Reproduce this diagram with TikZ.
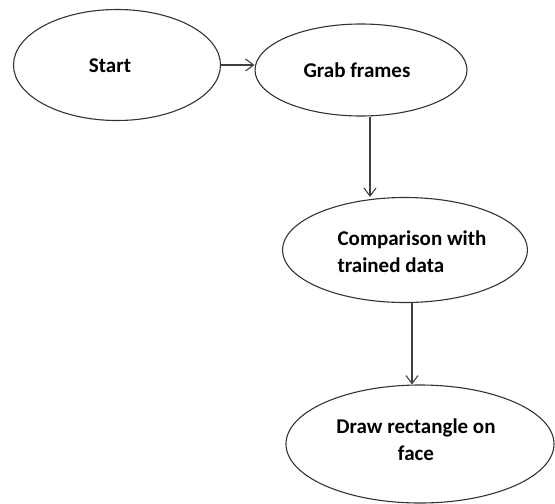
\documentclass[tikz,border=0pt]{standalone}
\usepackage{fontspec}
\setmainfont{Carlito}
\usetikzlibrary{shapes.geometric,arrows.meta}
\begin{document}
\begin{tikzpicture}[x=1pt,y=-1pt,
  blob/.style={draw=black!80, line width=1.1pt, ellipse, inner sep=0pt},
  txt/.style={inner sep=0pt, font=\bfseries\fontsize{21}{27}\selectfont},
  flow/.style={draw=black!75, line width=1.1pt, -{Straight Barb[length=8pt,width=12pt]}}]
\useasboundingbox (0,0) rectangle (555,504);
\node[blob, minimum width=207pt, minimum height=111pt] (start) at (117,65) {};
\node[blob, minimum width=212pt, minimum height=92pt] (grab) at (361,70) {};
\node[blob, minimum width=245pt, minimum height=105pt] (comp) at (405,250) {};
\node[blob, minimum width=268pt, minimum height=118pt] (draw) at (420,444) {};
\node[txt] (tstart) at (110,66) {Start};
\node[txt] (tgrab) at (357,70) {Grab frames};
\node[txt, align=left] (tcomp) at (412,252) {Comparison with\\trained data};
\node[txt, align=center] (tdraw) at (416,440) {Draw rectangle on\\face};
\draw[flow] (start.east) -- (grab.west |- start.east);
\draw[flow] (grab.south -| 370,0) -- (comp.north -| 370,0);
\draw[flow] (comp.south -| 412,0) -- (draw.north -| 412,0);
\end{tikzpicture}
\end{document}
